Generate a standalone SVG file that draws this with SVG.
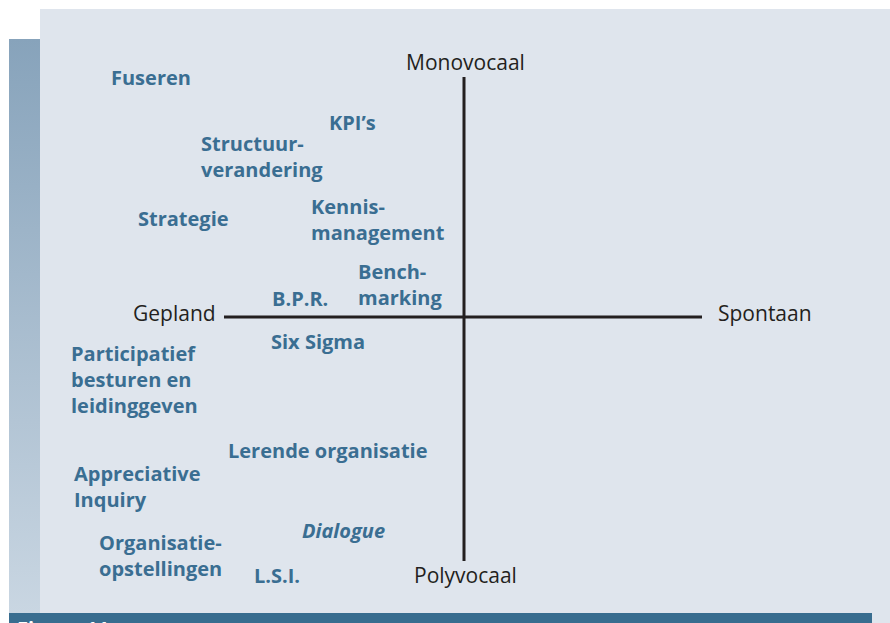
<svg xmlns="http://www.w3.org/2000/svg" width="890" height="623" viewBox="0 0 890 623">
  <defs>
    <linearGradient id="stripFade" x1="0" y1="0" x2="0" y2="1">
      <stop offset="0" stop-color="#87a3bb"/>
      <stop offset="1" stop-color="#c9d6e2"/>
    </linearGradient>
    <style>
      .axis { stroke: #231f20; stroke-width: 3; fill: none; }
      .pole { font-family: "Open Sans", "Noto Sans", sans-serif; font-size: 21px; fill: #231f20; }
      .item { font-family: "Open Sans", "Noto Sans", sans-serif; font-size: 20px; font-weight: bold; fill: #3a6e92; }
      .item.it { font-style: italic; }
      .caption { font-family: "Open Sans", "Noto Sans", sans-serif; font-size: 20px; font-weight: bold; fill: #ffffff; }
    </style>
  </defs>

  <!-- page and panel -->
  <rect x="0" y="0" width="890" height="623" fill="#ffffff"/>
  <rect x="40" y="9" width="850" height="614" fill="#dfe5ed"/>
  <rect x="9" y="39" width="31" height="574" fill="url(#stripFade)"/>
  <rect x="9" y="613" width="863" height="10" fill="#386d8f"/>
  <text class="caption" x="17" y="636">Figuur 11</text>

  <!-- axes -->
  <g id="connectors">
    <line class="axis" x1="464" y1="77" x2="464" y2="561"/>
    <line class="axis" x1="224" y1="317" x2="702" y2="317"/>
  </g>

  <!-- axis poles -->
  <g id="pole-monovocaal"><text class="pole" x="406" y="70">Monovocaal</text></g>
  <g id="pole-polyvocaal"><text class="pole" x="414" y="583">Polyvocaal</text></g>
  <g id="pole-gepland"><text class="pole" x="133" y="321">Gepland</text></g>
  <g id="pole-spontaan"><text class="pole" x="718" y="321">Spontaan</text></g>

  <!-- methods -->
  <g id="fuseren"><text class="item" x="111" y="85">Fuseren</text></g>
  <g id="kpis"><text class="item" x="329" y="130">KPI’s</text></g>
  <g id="structuurverandering">
    <text class="item" x="201" y="151">Structuur-</text>
    <text class="item" x="201" y="177">verandering</text>
  </g>
  <g id="strategie"><text class="item" x="138" y="226">Strategie</text></g>
  <g id="kennismanagement">
    <text class="item" x="311" y="214">Kennis-</text>
    <text class="item" x="311" y="240">management</text>
  </g>
  <g id="benchmarking">
    <text class="item" x="358" y="279">Bench-</text>
    <text class="item" x="358" y="305">marking</text>
  </g>
  <g id="bpr"><text class="item" x="272" y="306">B.P.R.</text></g>
  <g id="six-sigma"><text class="item" x="271" y="349">Six Sigma</text></g>
  <g id="participatief">
    <text class="item" x="71" y="361">Participatief</text>
    <text class="item" x="71" y="387">besturen en</text>
    <text class="item" x="71" y="413">leidinggeven</text>
  </g>
  <g id="lerende-organisatie"><text class="item" x="228" y="458">Lerende organisatie</text></g>
  <g id="appreciative-inquiry">
    <text class="item" x="74" y="481">Appreciative</text>
    <text class="item" x="74" y="507">Inquiry</text>
  </g>
  <g id="dialogue"><text class="item it" x="302" y="538">Dialogue</text></g>
  <g id="organisatieopstellingen">
    <text class="item" x="99" y="550">Organisatie-</text>
    <text class="item" x="99" y="576">opstellingen</text>
  </g>
  <g id="lsi"><text class="item" x="254" y="583">L.S.I.</text></g>
</svg>
